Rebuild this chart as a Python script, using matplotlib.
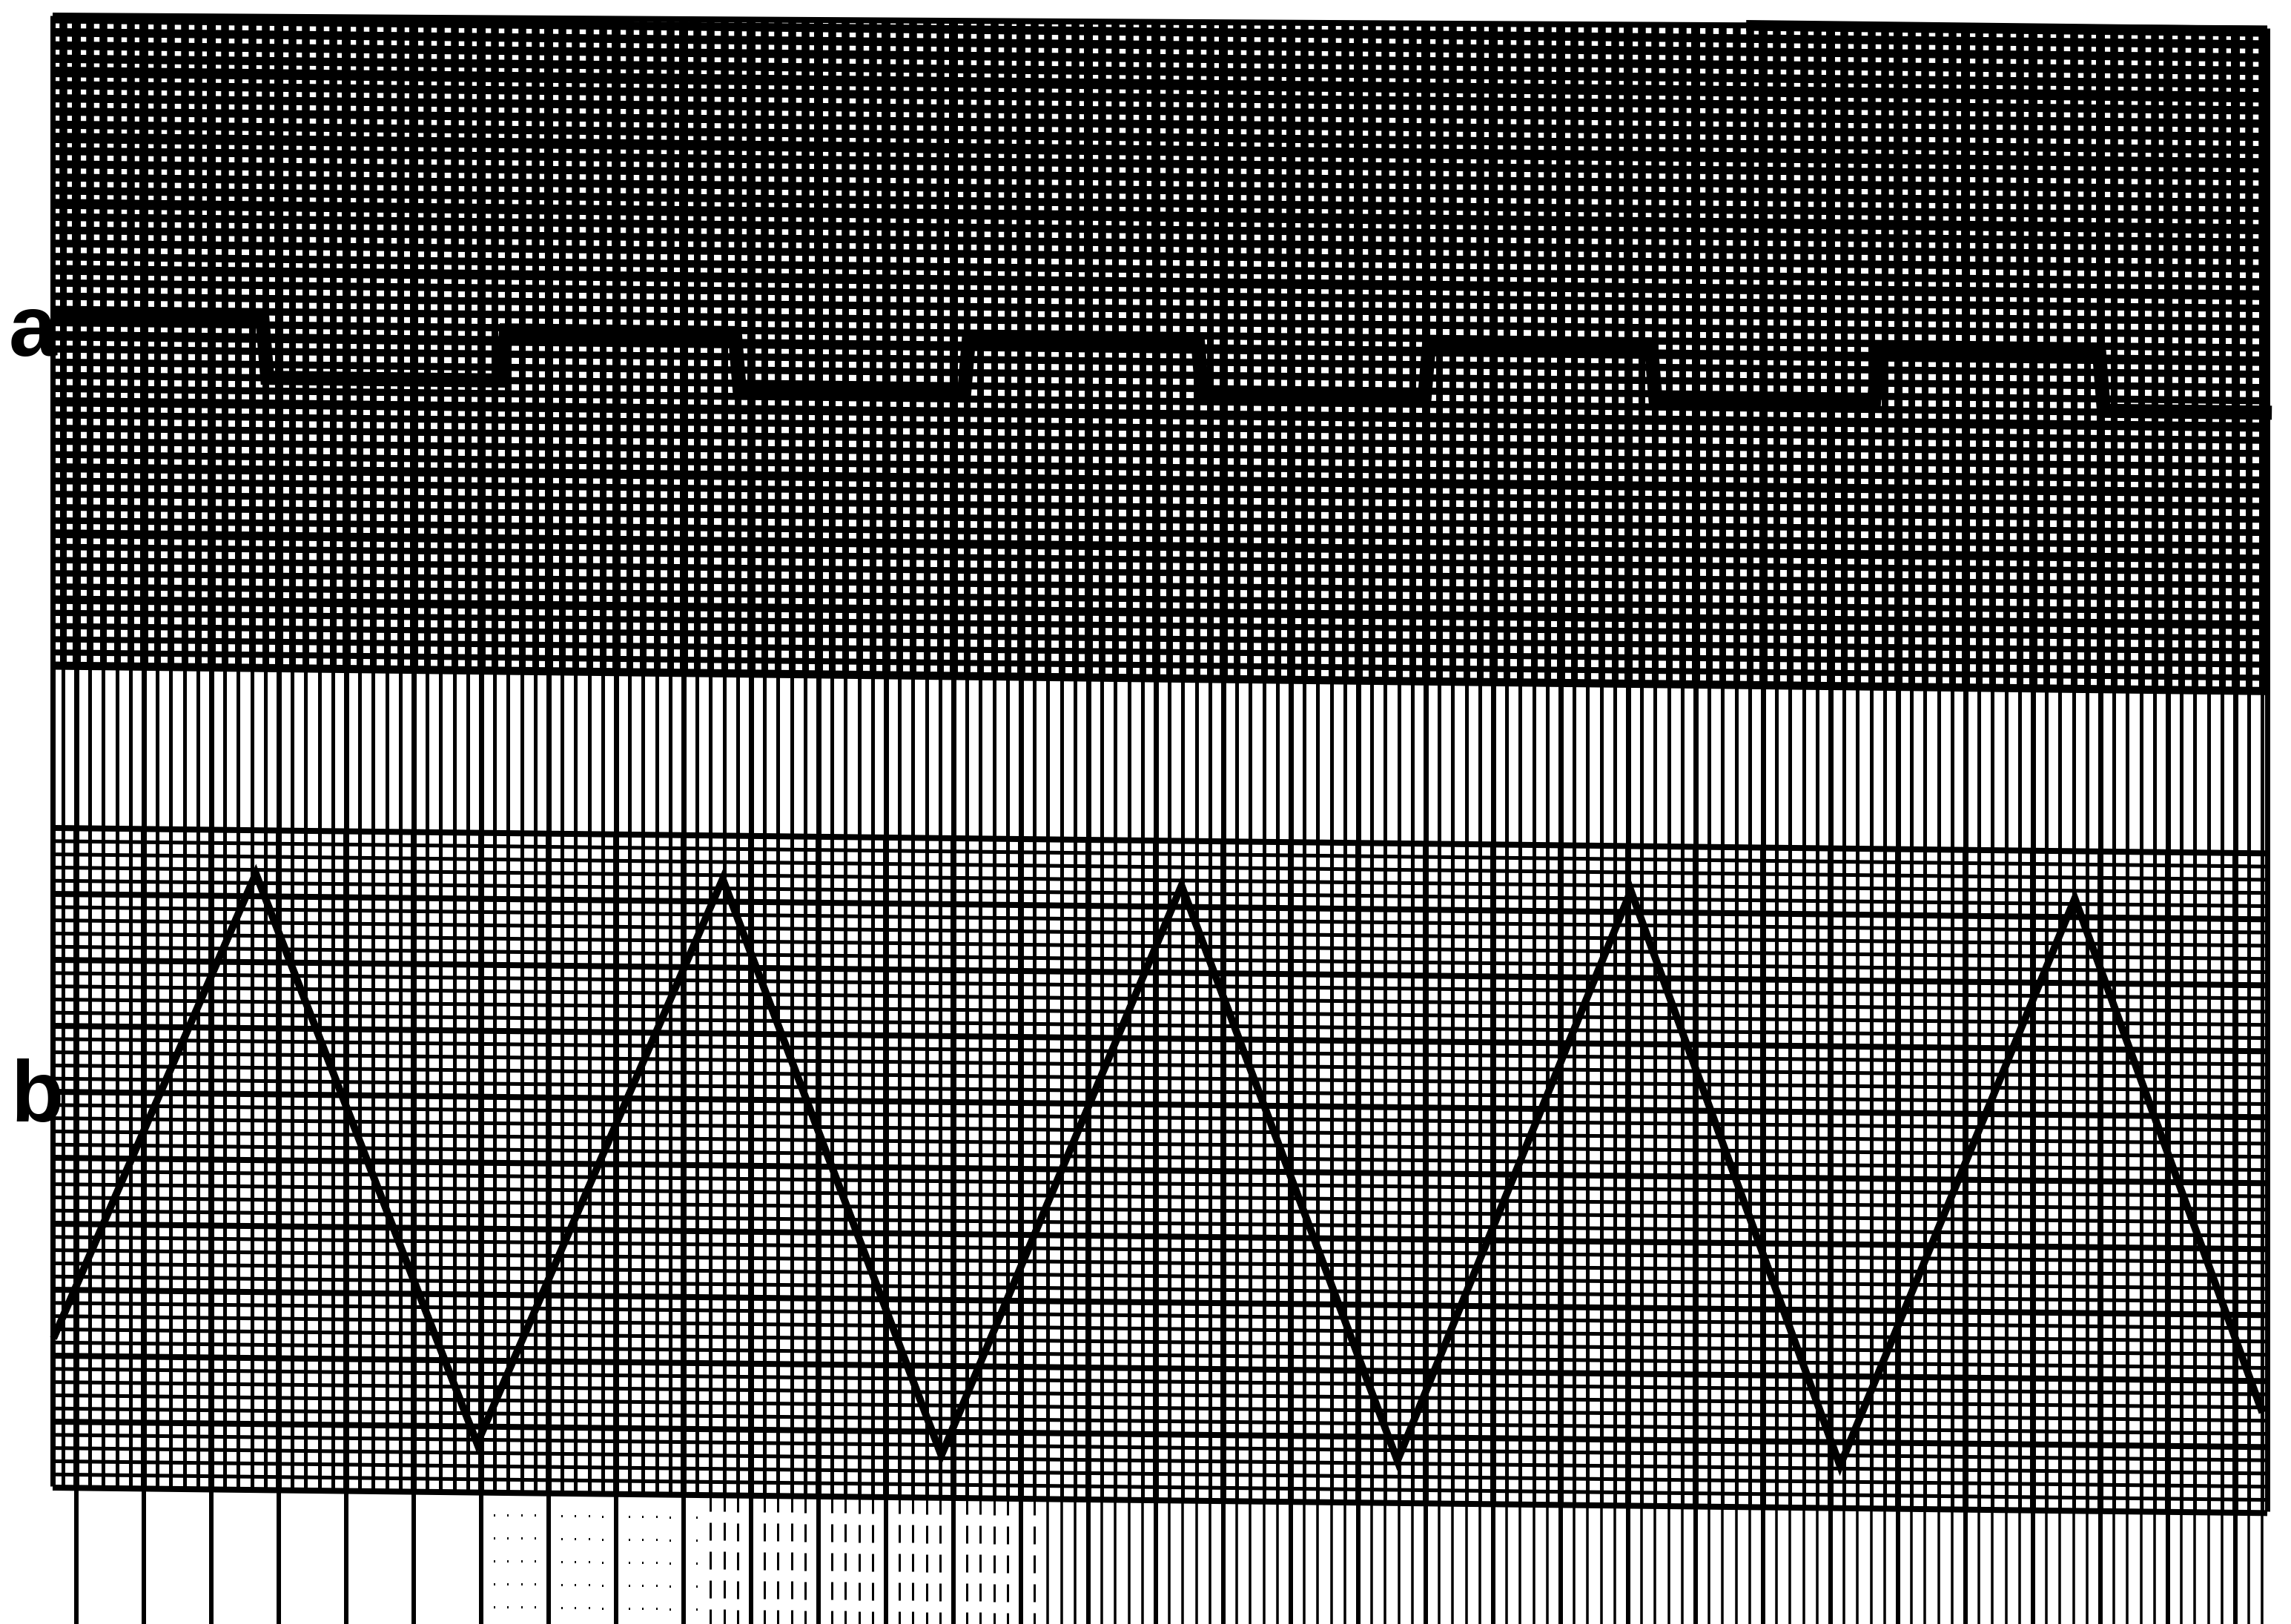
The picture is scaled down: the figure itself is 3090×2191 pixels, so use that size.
import numpy as np
import matplotlib
matplotlib.use("Agg")
import matplotlib.pyplot as plt
from matplotlib.collections import LineCollection
from matplotlib.transforms import Affine2D

# ---------------- data read from the chart-recorder paper ----------------
# time axis: minor chart divisions counted from the first major vertical line
# amplitude: minor chart divisions
# trace a (square wave): transition times and plateau levels (above band top line)
a_edge_t = [13.8, 31.5, 48.8, 65.8, 83.1, 99.9, 116.7, 133.2, 149.9]
a_high = [26.3, 25.8, 25.7, 25.6, 25.6]
a_low = [22.0, 21.5, 21.4, 21.3, 21.1]
a_span = [-1.7, 162.7]

# trace b (triangle wave): vertex times and values (above bottom grid line)
b_t = [-1.7, 13.3, 29.7, 47.9, 64.1, 81.9, 97.9, 115.2, 130.7, 148.1, 162.0]
b_v = [11.2, 46.6, 3.6, 46.6, 3.1, 46.5, 3.1, 46.5, 3.1, 46.3, 7.5]

trace_labels = ["a", "b"]

# ---------------- paper geometry (pixels of the scan) ----------------
W, H = 3090, 2191
XL, XR = 71, 3058          # paper left / right edge
X0, PX = 103, 18.2         # first major vertical line, minor pitch (x)
PY = 17.8                  # minor pitch (y)
Y_TOP_L, Y_TOP_R = 21, 4   # torn top edge of paper (paper coords, left/right)
Y_BAND_TOP = 898           # bottom line of upper grid
Y_BAND_BOT = 1117          # top line of lower grid
Y_LOW_BOT = 2005           # bottom line of lower grid
K = 0.0115                 # slight skew of the scan

def y_top(x):
    return Y_TOP_L + (Y_TOP_R - Y_TOP_L) * (x - XL) / (XR - XL)

fig = plt.figure(figsize=(W / 100, H / 100), dpi=100)
ax = fig.add_axes([0, 0, 1, 1])
ax.set_xlim(0, W)
ax.set_ylim(H, 0)
ax.axis("off")

shear = Affine2D(np.array([[1, 0, 0], [K, 1, -K * XL], [0, 0, 1]])) + ax.transData
PT = 0.72  # points per pixel at 100 dpi

segs, widths = [], []

def add(seg, wpx):
    segs.append(seg)
    widths.append(wpx * PT)

# vertical lines
xs = [(i, X0 + PX * i) for i in range(-1, 200)]
xs = [(i, x) for i, x in xs if XL < x < XR - 3]
for i, x in xs:
    major = (i % 5 == 0)
    add([(x, y_top(x)), (x, 330)], 12 if major else 10.5)
    add([(x, 330), (x, Y_BAND_TOP)], 11 if major else 9)
    add([(x, Y_BAND_TOP), (x, Y_BAND_BOT)], 7 if major else 5)
    add([(x, Y_BAND_BOT), (x, Y_LOW_BOT)], 8 if major else 5)
    if major:
        add([(x, Y_LOW_BOT), (x, H + 40)], 6)
    elif x > 1400:
        add([(x, Y_LOW_BOT), (x, H + 40)], 3.5)

# paper edges
for x in (XL, XR):
    add([(x, y_top(x)), (x, Y_LOW_BOT)], 7)
add([(XL, y_top(XL)), (XR, y_top(XR))], 8)

# horizontal lines, upper grid (clipped by the top edge)
n = 0
while Y_BAND_TOP - PY * n >= Y_TOP_R:
    y = Y_BAND_TOP - PY * n
    major = (n % 5 == 0)
    frac = max(0.0, (y - Y_TOP_L) / (Y_BAND_TOP - Y_TOP_L))
    wpx = 11.5 - 3.5 * frac + (3 if major else 0)
    if y >= Y_TOP_L:
        add([(XL, y), (XR, y)], wpx)
    else:
        xstart = XL + (y - Y_TOP_L) / (Y_TOP_R - Y_TOP_L) * (XR - XL)
        add([(xstart, y), (XR, y)], wpx)
    n += 1

# horizontal lines, lower grid
for n in range(0, 51):
    y = Y_BAND_BOT + PY * n
    major = (n % 5 == 0)
    add([(XL, y), (XR, y)], 8 if major else 5)

ax.add_collection(LineCollection(segs, linewidths=widths, colors="black",
                                 transform=shear, capstyle="butt"))

# faded minor lines in the bottom strip (print fades towards the left)
dsegs, ssegs = [], []
for i, x in xs:
    if i % 5 != 0 and 950 < x <= 1400:
        dsegs.append([(x, Y_LOW_BOT), (x, H + 40)])
    elif i % 5 != 0 and 640 < x <= 950:
        ssegs.append([(x, Y_LOW_BOT), (x, H + 40)])
ax.add_collection(LineCollection(dsegs, linewidths=3 * PT, colors="black",
                                 linestyles=(0, (8, 5)), transform=shear))
ax.add_collection(LineCollection(ssegs, linewidths=2 * PT, colors="black",
                                 linestyles=(0, (1.5, 14)), transform=shear))

# ---------------- traces ----------------
def data_trans(y_ref):
    m = np.array([[PX, 0, X0], [K * PX, -PY, y_ref + K * (X0 - XL)], [0, 0, 1]])
    return Affine2D(m) + ax.transData

levels = []
for h, l in zip(a_high, a_low):
    levels += [h, l]
at = [a_span[0]]
av = [levels[0]]
for k, te in enumerate(a_edge_t):
    at += [te, te + 0.35]
    av += [levels[k], levels[k + 1]]
at.append(a_span[1])
av.append(levels[-1])
ax.plot(at, av, color="black", lw=19 * PT, solid_joinstyle="miter",
        solid_capstyle="butt", transform=data_trans(Y_BAND_TOP))

ax.plot(b_t, b_v, color="black", lw=10 * PT, solid_joinstyle="miter",
        solid_capstyle="butt", transform=data_trans(Y_LOW_BOT))

# ---------------- labels ----------------
ax.text(12, 480, trace_labels[0], fontsize=84, fontweight="bold",
        family=["Liberation Sans", "DejaVu Sans"], ha="left", va="baseline")
ax.text(14, 1513, trace_labels[1], fontsize=84, fontweight="bold",
        family=["Liberation Sans", "DejaVu Sans"], ha="left", va="baseline")

fig.savefig("out.png", dpi=100, facecolor="white")
